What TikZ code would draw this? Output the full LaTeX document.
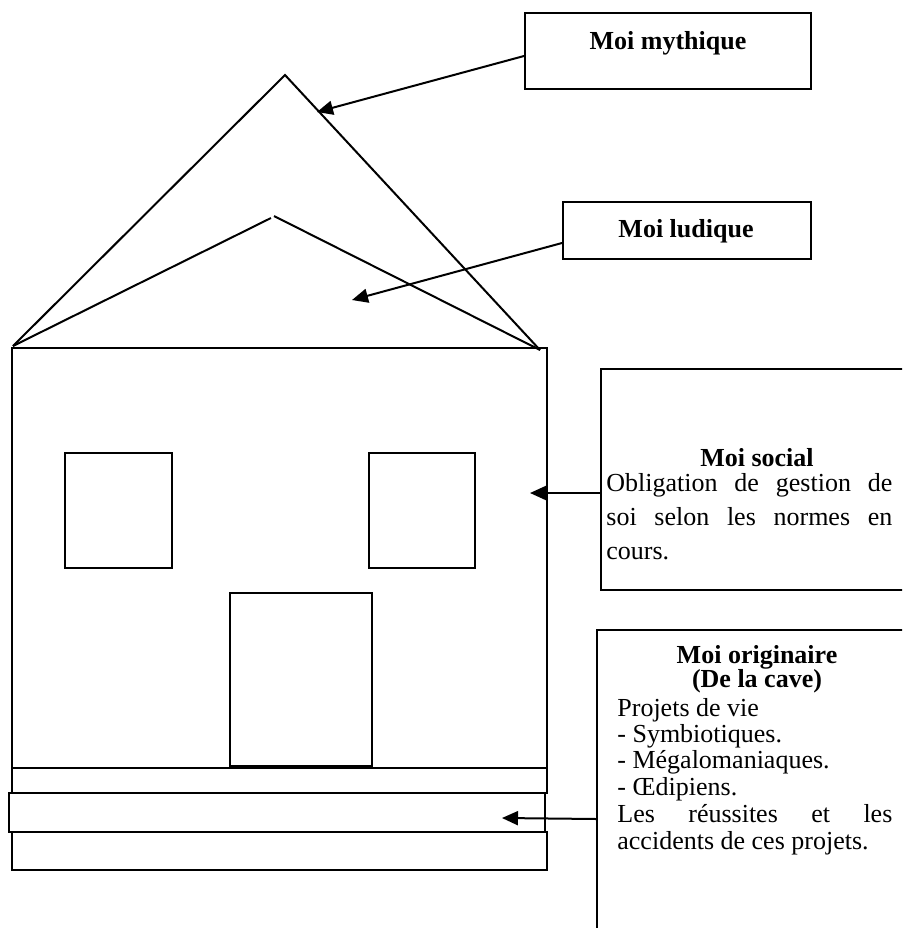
\documentclass[tikz,border=0pt]{standalone}
\usepackage{fontspec}
\setmainfont{Liberation Serif}
\usetikzlibrary{arrows.meta}
\begin{document}
\begin{tikzpicture}[x=0.5pt,y=-0.5pt,
  hs/.style={line width=1pt, line join=miter},
  bx/.style={draw, line width=1pt, inner sep=0pt},
  ln/.style={inner sep=0pt, font=\fontsize{13}{13.25}\selectfont},
  arr/.style={-{Triangle[length=8pt,width=7pt]}, line width=1pt}]
\clip (0,0) rectangle (902,928);
% house
\draw[hs] (13,346) -- (285,75) -- (540,350);
\draw[hs] (13,346) -- (271,218);
\draw[hs] (274,216) -- (540,350);
\draw[hs] (12,348) rectangle (547,768);
\draw[hs] (65,453) rectangle (172,568);
\draw[hs] (369,453) rectangle (475,568);
\draw[hs] (230,593) rectangle (372,766);
\draw[hs] (12,768) rectangle (547,793);
\draw[hs] (9,793) rectangle (545,832);
\draw[hs] (12,832) rectangle (547,870);
% boxes
\node[bx, minimum width=143pt, minimum height=38pt] (mythique) at (668,51) {};
\node[ln, anchor=base] (mythiquetxt) at (668,49) {\bfseries Moi mythique};
\node[bx, minimum width=124pt, minimum height=28.5pt] (ludique) at (687,230.5) {};
\node[ln, anchor=base] (ludiquetxt) at (686,237) {\bfseries Moi ludique};
\node[bx, minimum width=179.5pt, minimum height=110.5pt] (social) at (780.5,479.5) {};
\node[ln, anchor=base] (s1) at (757,466) {\bfseries Moi social};
\node[ln, anchor=base west] (s2) at (606,491) {\makebox[143pt][s]{Obligation de gestion de}};
\node[ln, anchor=base west] (s3) at (606,525) {\makebox[143pt][s]{soi selon les normes en}};
\node[ln, anchor=base west] (s4) at (606,559) {cours.};
\node[bx, minimum width=181.5pt, minimum height=185pt] (originaire) at (778.5,815) {};
\node[ln, anchor=base] (o1) at (757,663) {\bfseries Moi originaire};
\node[ln, anchor=base] (o2) at (757,687) {\bfseries (De la cave)};
\node[ln, anchor=base west] (o3) at (617,716) {Projets de vie};
\node[ln, anchor=base west] (o4) at (617,742) {- Symbiotiques.};
\node[ln, anchor=base west] (o5) at (617,768) {- Mégalomaniaques.};
\node[ln, anchor=base west] (o6) at (617,795) {- Œdipiens.};
\node[ln, anchor=base west] (o7) at (617,822) {\makebox[137.5pt][s]{Les réussites et les}};
\node[ln, anchor=base west] (o8) at (617,849) {accidents de ces projets.};
% arrow tips
\coordinate (t1) at (317,112);
\coordinate (t2) at (352,300);
\coordinate (t3) at (530,493);
\coordinate (t4) at (502,818);
\draw[arr] ([yshift=-2.5pt]mythique.west) -- (t1);
\draw[arr] ([yshift=-6.25pt]ludique.west) -- (t2);
\draw[arr] ([yshift=-6.75pt]social.west) -- (t3);
\draw[arr] ([yshift=-2pt]originaire.west) -- (t4);
\end{tikzpicture}
\end{document}
